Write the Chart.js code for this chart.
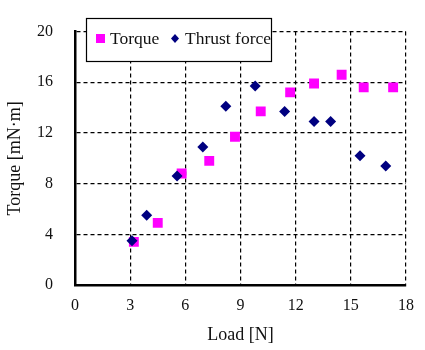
<!DOCTYPE html>
<html>
<head>
<meta charset="utf-8">
<script src="https://cdn.jsdelivr.net/npm/chart.js@4.4.0/dist/chart.umd.min.js"></script>
<style>
  html, body { margin: 0; padding: 0; background: #fff; }
  #wrap { width: 425px; height: 350px; }
</style>
</head>
<body>
<div id="wrap"><canvas id="chart" width="425" height="350"></canvas></div>
<script>
// Données
const torqueLoad  = [3.2, 4.5, 5.8, 7.3, 8.7, 10.1, 11.7, 13.0, 14.5, 15.7, 17.3];
const torqueValue = [3.4, 4.9, 8.8, 9.8, 11.7, 13.7, 15.2, 15.9, 16.6, 15.6, 15.6];
const thrustLoad  = [3.1, 3.9, 5.55, 6.95, 8.2, 9.8, 11.4, 13.0, 13.9, 15.5, 16.9];
const thrustValue = [3.5, 5.5, 8.6, 10.9, 14.1, 15.7, 13.7, 12.9, 12.9, 10.2, 9.4];
const xTicks = [0, 3, 6, 9, 12, 15, 18];
const yTicks = [0, 4, 8, 12, 16, 20];

const serif = '"Liberation Serif", "Times New Roman", serif';

function toPoints(xs, ys) {
    return xs.map((x, i) => ({ x: x, y: ys[i] }));
}

// Légende encadrée dans la zone du graphique
const boxLegend = {
    id: 'boxLegend',
    afterDraw(chart) {
        const ctx = chart.ctx;
        ctx.save();
        ctx.fillStyle = '#fff';
        ctx.fillRect(86, 18, 185, 43);
        ctx.strokeStyle = '#000';
        ctx.lineWidth = 1.2;
        ctx.strokeRect(86.5, 18.5, 185, 43);

        ctx.fillStyle = '#ff00ff';
        ctx.fillRect(96, 34, 9, 9);
        ctx.fillStyle = '#000080';
        ctx.beginPath();
        ctx.moveTo(175, 34);
        ctx.lineTo(179, 38.5);
        ctx.lineTo(175, 43);
        ctx.lineTo(171, 38.5);
        ctx.closePath();
        ctx.fill();

        ctx.fillStyle = '#111';
        ctx.font = '17.5px ' + serif;
        ctx.textBaseline = 'middle';
        ctx.fillText(chart.data.datasets[0].label, 110, 39);
        ctx.fillText(chart.data.datasets[1].label, 185, 39);
        ctx.restore();
    }
};

const ctx = document.getElementById('chart').getContext('2d');
new Chart(ctx, {
    type: 'scatter',
    data: {
        datasets: [{
            label: 'Torque',
            data: toPoints(torqueLoad, torqueValue),
            order: 1, // dessiné sous les losanges
            pointStyle: 'rect',
            pointRadius: 7,
            pointHoverRadius: 7,
            backgroundColor: '#ff00ff',
            borderColor: '#ff00ff',
            borderWidth: 0
        }, {
            label: 'Thrust force',
            data: toPoints(thrustLoad, thrustValue),
            order: 0,
            pointStyle: 'rectRot',
            pointRadius: 5.5,
            pointHoverRadius: 5.5,
            backgroundColor: '#000080',
            borderColor: '#000080',
            borderWidth: 0
        }]
    },
    options: {
        responsive: false,
        animation: false,
        layout: { padding: { top: 15, right: 12, left: 0, bottom: 0 } },
        plugins: {
            legend: { display: false },
            tooltip: { enabled: false }
        },
        scales: {
            x: {
                type: 'linear',
                min: 0,
                max: 18,
                afterBuildTicks: (scale) => { scale.ticks = xTicks.map(v => ({ value: v })); },
                afterFit: (scale) => { scale.height = 65; },
                grid: { color: '#000', lineWidth: 1.2, drawTicks: false },
                border: { display: true, color: '#000', width: 2.5, dash: [4, 3] },
                ticks: { padding: 11, color: '#111', font: { family: serif, size: 16 } },
                title: {
                    display: true,
                    text: 'Load [N]',
                    color: '#111',
                    font: { family: serif, size: 18 },
                    padding: { top: 4, bottom: 4 }
                }
            },
            y: {
                type: 'linear',
                min: 0,
                max: 20,
                afterBuildTicks: (scale) => { scale.ticks = yTicks.map(v => ({ value: v })); },
                afterFit: (scale) => { scale.width = 75; },
                grid: { color: '#000', lineWidth: 1.2, drawTicks: false },
                border: { display: true, color: '#000', width: 2.5, dash: [4, 3] },
                ticks: { padding: 22, color: '#111', font: { family: serif, size: 16 } },
                title: {
                    display: true,
                    text: 'Torque [mN\u00b7m]',
                    color: '#111',
                    font: { family: serif, size: 18 },
                    padding: { top: 4, bottom: 4 }
                }
            }
        }
    },
    plugins: [boxLegend]
});
</script>
</body>
</html>
